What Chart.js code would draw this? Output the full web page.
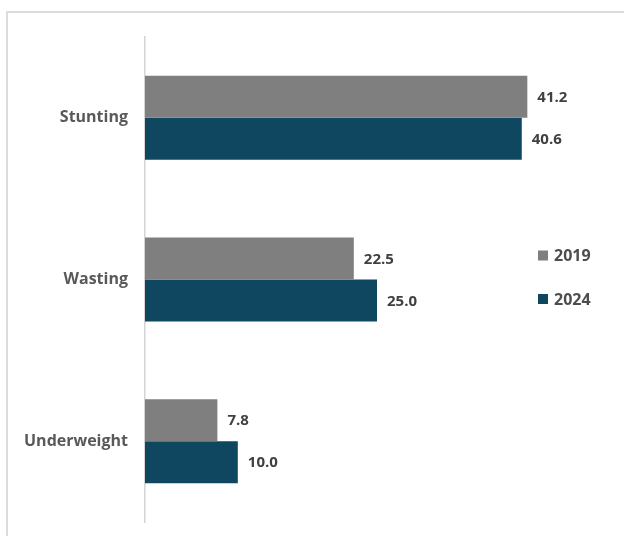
<!DOCTYPE html>
<html>
<head>
<meta charset="utf-8">
<script src="https://cdn.jsdelivr.net/npm/chart.js@4"></script>
<style>
  html, body { margin: 0; padding: 0; background: #fff; }
  #wrap { position: relative; width: 624px; height: 536px; overflow: hidden; }
  #frame { position: absolute; left: 6px; top: 11px; width: 700px; height: 600px;
           border-top: 2px solid #dcdcdc; border-left: 2px solid #dcdcdc; }
  canvas { position: absolute; left: 0; top: 0; }
</style>
</head>
<body>
<div id="wrap">
  <div id="frame"></div>
  <canvas id="chart" width="624" height="536"></canvas>
</div>
<script>
// ---- data ----
const categories = ["Stunting", "Wasting", "Underweight"];
const years = ["2019", "2024"];
const values2019 = [41.2, 22.5, 7.8];
const values2024 = [40.6, 25.0, 10.0];
const colors = ["#7f7f7f", "#0f4761"];

const FONT = "'Open Sans', sans-serif";

// value labels at bar ends
const valueLabels = {
  id: "valueLabels",
  afterDatasetsDraw(chart) {
    const ctx = chart.ctx;
    ctx.save();
    ctx.font = "bold 15px " + FONT;
    ctx.fillStyle = "#404040";
    ctx.textBaseline = "middle";
    ctx.textAlign = "left";
    chart.data.datasets.forEach((ds, i) => {
      chart.getDatasetMeta(i).data.forEach((bar, j) => {
        ctx.fillText(ds.data[j].toFixed(1), bar.x + 10, bar.y + 1);
      });
    });
    ctx.restore();
  }
};

// legend on the right, over the plot
const sideLegend = {
  id: "sideLegend",
  afterDraw(chart) {
    const ctx = chart.ctx;
    ctx.save();
    ctx.font = "bold 16px " + FONT;
    ctx.textBaseline = "middle";
    chart.data.datasets.forEach((ds, i) => {
      const y = 255.5 + i * 43.5;
      ctx.fillStyle = ds.backgroundColor;
      ctx.fillRect(538, y - 5, 10, 10);
      ctx.fillStyle = "#4d4d4d";
      ctx.fillText(ds.label, 554, y + 1);
    });
    ctx.restore();
  }
};

new Chart(document.getElementById("chart"), {
  type: "bar",
  data: {
    labels: categories,
    datasets: [
      { label: years[0], data: values2019, backgroundColor: colors[0] },
      { label: years[1], data: values2024, backgroundColor: colors[1] }
    ]
  },
  options: {
    indexAxis: "y",
    responsive: false,
    animation: false,
    layout: { padding: { top: 37, bottom: 14, right: 15, left: 0 } },
    datasets: { bar: { barPercentage: 1, categoryPercentage: 0.52 } },
    plugins: { legend: { display: false }, tooltip: { enabled: false } },
    scales: {
      x: { display: false, min: 0, max: 50 },
      y: {
        grid: { display: false, drawTicks: false },
        border: { display: true, color: "#d4d4d4", width: 1.5 },
        ticks: { color: "#595959", font: { family: FONT, size: 16, weight: "bold" }, padding: 17 },
        afterFit(scale) {
          scale.width = 145;
          scale.paddingTop = 0;
          scale.paddingBottom = 0;
        }
      }
    }
  },
  plugins: [valueLabels, sideLegend]
});
</script>
</body>
</html>
